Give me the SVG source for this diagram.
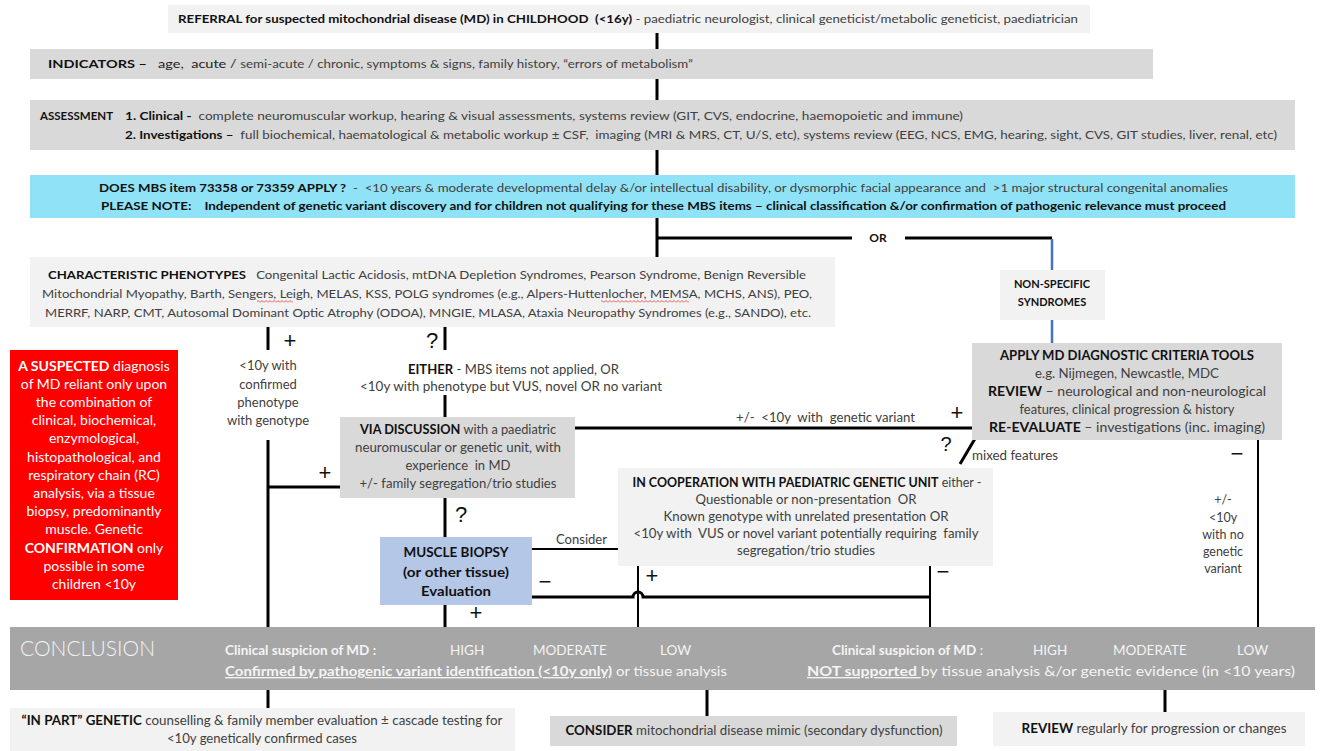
<svg xmlns="http://www.w3.org/2000/svg" width="1320" height="751" viewBox="0 0 1320 751">
<style>
text{font-family:Lato,"Liberation Sans",sans-serif;font-size:11px;fill:#404040;white-space:pre}
.m{font-size:13px}
.s{font-size:12.5px}
.b{font-weight:bold;fill:#111}
.c{text-anchor:middle}
.lt{fill:#f2f2f2;stroke:none}
.md{fill:#d9d9d9;stroke:none}
.ln{stroke:#000;stroke-width:3;fill:none}
.th{stroke:#000;stroke-width:2;fill:none}
.bl{stroke:#4472c4;stroke-width:2.5;fill:none}
.sym{font-family:"Liberation Sans",sans-serif;font-size:22px;fill:#111;text-anchor:middle}
.w{fill:#fff;font-size:14px}
.wb{fill:#fff;font-weight:bold}
.cl{fill:#f4f4f4;font-size:13.5px}
</style>
<defs>
<pattern id="wave" width="4" height="3" patternUnits="userSpaceOnUse"><path d="M0,2.5 L2,0.5 L4,2.5" stroke="#e03030" stroke-width="0.8" fill="none"/></pattern>
</defs>

<g id="connectors">
<path class="ln" d="M657,32 V49 M657,79 V100 M657,150 V175 M657,218 V257"/>
<path class="ln" d="M657,238 H852 M905,238 H1052"/>
<path class="bl" d="M1052,239 V270 M1052,320 V343"/>
<path class="ln" d="M268,327 V350 M268,440 V627 M268,487 H340"/>
<path class="ln" d="M445,327 V350 M445,395 V417 M445,498 V537 M445,605 V627"/>
<path class="ln" d="M575,428 H972"/>
<path class="ln" d="M976,437 L960,464"/>
<path class="th" d="M532,549 H618"/>
<path class="ln" d="M532,597 H633 A5,5 0 0 1 643,597 H930"/>
<path class="th" d="M638,566 V627 M930,566 V627"/>
<path class="th" d="M1258,440 V627"/>
<path class="ln" d="M268,690 V708 M707,690 V716 M1165,690 V712"/>
<text class="b c" x="878" y="242" style="font-size:12px">OR</text>
<text class="sym" x="290" y="348">+</text>
<text class="sym" x="432" y="348">?</text>
<text class="sym" x="325" y="480">+</text>
<text class="sym" x="461" y="522">?</text>
<text class="sym" x="957" y="420">+</text>
<text class="sym" x="946" y="451" style="font-size:20px">?</text>
<text class="sym" x="1237" y="461">−</text>
<text class="sym" x="943" y="579">−</text>
<text class="sym" x="652" y="583">+</text>
<text class="sym" x="545" y="589">−</text>
<text class="sym" x="476" y="620">+</text>
<text class="m c" x="268" y="370">&lt;10y with</text>
<text class="m c" x="268" y="389">confirmed</text>
<text class="m c" x="268" y="407">phenotype</text>
<text class="m c" x="268" y="425">with genotype</text>
<text class="m" x="408" y="374" textLength="211" lengthAdjust="spacingAndGlyphs"><tspan class="b">EITHER</tspan> - MBS items not applied, OR</text>
<text class="m" x="360" y="391" textLength="302" lengthAdjust="spacingAndGlyphs">&lt;10y with phenotype but VUS, novel OR no variant</text>
<text class="m" x="736" y="422" textLength="179" lengthAdjust="spacingAndGlyphs">+/-  &lt;10y  with  genetic variant</text>
<text class="s" x="972" y="460" textLength="86" lengthAdjust="spacingAndGlyphs">mixed features</text>
<text class="s" x="556" y="544" textLength="51" lengthAdjust="spacingAndGlyphs">Consider</text>
<text class="s c" x="1223" y="504">+/-</text>
<text class="s c" x="1223" y="522">&lt;10y</text>
<text class="s c" x="1223" y="539">with no</text>
<text class="s c" x="1223" y="556">genetic</text>
<text class="s c" x="1223" y="573">variant</text>
</g>

<g id="referral">
<rect class="lt" x="168" y="5" width="922" height="28"/>
<text x="178" y="23" textLength="900" lengthAdjust="spacingAndGlyphs" style="font-size:12px"><tspan class="b">REFERRAL for suspected mitochondrial disease (MD) in CHILDHOOD  (&lt;16y)</tspan> - paediatric neurologist, clinical geneticist/metabolic geneticist, paediatrician</text>
</g>

<g id="indicators">
<rect class="md" x="30" y="49" width="1123" height="30"/>
<text x="48" y="68" textLength="645" lengthAdjust="spacingAndGlyphs" style="font-size:12px"><tspan class="b">INDICATORS –</tspan><tspan fill="#222">   age,  acute / </tspan><tspan style="font-size:11px">semi-acute / chronic, symptoms &amp; signs, family history, “errors of metabolism”</tspan></text>
</g>

<g id="assessment">
<rect class="md" x="30" y="100" width="1265" height="50"/>
<text class="b" x="40" y="120" style="font-size:11.5px">ASSESSMENT</text>
<text x="125" y="120" textLength="838" lengthAdjust="spacingAndGlyphs"><tspan class="b">1. Clinical -</tspan>  complete neuromuscular workup, hearing &amp; visual assessments, systems review (GIT, CVS, endocrine, haemopoietic and immune)</text>
<text x="125" y="139" textLength="1152" lengthAdjust="spacingAndGlyphs"><tspan class="b">2. Investigations –</tspan>  full biochemical, haematological &amp; metabolic workup ± CSF,  imaging (MRI &amp; MRS, CT, U/S, etc), systems review (EEG, NCS, EMG, hearing, sight, CVS, GIT studies, liver, renal, etc)</text>
</g>

<g id="mbs">
<rect x="30" y="175" width="1265" height="43" fill="#90e3f6"/>
<text x="99" y="192" textLength="1129" lengthAdjust="spacingAndGlyphs"><tspan class="b">DOES MBS item 73358 or 73359 APPLY ?</tspan>  -  &lt;10 years &amp; moderate developmental delay &amp;/or intellectual disability, or dysmorphic facial appearance and  &gt;1 major structural congenital anomalies</text>
<text class="b" x="101" y="210" textLength="1125" lengthAdjust="spacingAndGlyphs">PLEASE NOTE:    Independent of genetic variant discovery and for children not qualifying for these MBS items – clinical classification &amp;/or confirmation of pathogenic relevance must proceed</text>
</g>

<g id="phenotypes">
<rect class="lt" x="30" y="257" width="805" height="70"/>
<text x="48" y="279" textLength="758" lengthAdjust="spacingAndGlyphs"><tspan class="b">CHARACTERISTIC PHENOTYPES</tspan>   Congenital Lactic Acidosis, mtDNA Depletion Syndromes, Pearson Syndrome, Benign Reversible</text>
<text x="42" y="298" textLength="770" lengthAdjust="spacingAndGlyphs">Mitochondrial Myopathy, Barth, Sengers, Leigh, MELAS, KSS, POLG syndromes (e.g., Alpers-Huttenlocher, MEMSA, MCHS, ANS), PEO,</text>
<text x="45" y="317" textLength="766" lengthAdjust="spacingAndGlyphs">MERRF, NARP, CMT, Autosomal Dominant Optic Atrophy (ODOA), MNGIE, MLASA, Ataxia Neuropathy Syndromes (e.g., SANDO), etc.</text>
<rect x="257" y="300" width="36" height="3" fill="url(#wave)"/>
<rect x="601" y="300" width="88" height="3" fill="url(#wave)"/>
</g>

<g id="nonspecific">
<rect class="lt" x="1000" y="270" width="105" height="50"/>
<text class="b c" x="1052" y="288">NON-SPECIFIC</text>
<text class="b c" x="1052" y="306">SYNDROMES</text>
</g>

<g id="apply">
<rect class="md" x="972" y="343" width="310" height="97"/>
<text class="m c" x="1127" y="360" textLength="254" lengthAdjust="spacingAndGlyphs"><tspan class="b">APPLY MD DIAGNOSTIC CRITERIA TOOLS</tspan></text>
<text class="m c" x="1127" y="378" textLength="184" lengthAdjust="spacingAndGlyphs">e.g. Nijmegen, Newcastle, MDC</text>
<text class="m c" x="1127" y="396" textLength="278" lengthAdjust="spacingAndGlyphs"><tspan class="b">REVIEW</tspan> – neurological and non-neurological</text>
<text class="m c" x="1127" y="414" textLength="215" lengthAdjust="spacingAndGlyphs">features, clinical progression &amp; history</text>
<text class="m c" x="1127" y="432" textLength="276" lengthAdjust="spacingAndGlyphs"><tspan class="b">RE-EVALUATE</tspan> – investigations (inc. imaging)</text>
</g>

<g id="suspected">
<rect x="10" y="350" width="168" height="250" fill="#ff0000"/>
<text class="w c" x="94" y="371"><tspan class="wb">A SUSPECTED</tspan> diagnosis</text>
<text class="w c" x="94" y="389">of MD reliant only upon</text>
<text class="w c" x="94" y="407">the combination of</text>
<text class="w c" x="94" y="425">clinical, biochemical,</text>
<text class="w c" x="94" y="443">enzymological,</text>
<text class="w c" x="94" y="462">histopathological, and</text>
<text class="w c" x="94" y="480">respiratory chain (RC)</text>
<text class="w c" x="94" y="498">analysis, via a tissue</text>
<text class="w c" x="94" y="516">biopsy, predominantly</text>
<text class="w c" x="94" y="534">muscle. Genetic</text>
<text class="w c" x="94" y="553"><tspan class="wb">CONFIRMATION</tspan> only</text>
<text class="w c" x="94" y="571">possible in some</text>
<text class="w c" x="94" y="589">children &lt;10y</text>
</g>

<g id="discussion">
<rect class="md" x="340" y="417" width="235" height="81"/>
<text class="m c" x="458" y="434" textLength="196" lengthAdjust="spacingAndGlyphs"><tspan class="b">VIA DISCUSSION</tspan> with a paediatric</text>
<text class="m c" x="458" y="452" textLength="206" lengthAdjust="spacingAndGlyphs">neuromuscular or genetic unit, with</text>
<text class="m c" x="458" y="470" textLength="105" lengthAdjust="spacingAndGlyphs">experience  in MD</text>
<text class="m c" x="458" y="488" textLength="197" lengthAdjust="spacingAndGlyphs">+/- family segregation/trio studies</text>
</g>

<g id="cooperation">
<rect class="lt" x="618" y="468" width="375" height="98"/>
<text class="m c" x="807" y="487" textLength="349" lengthAdjust="spacingAndGlyphs"><tspan class="b">IN COOPERATION WITH PAEDIATRIC GENETIC UNIT</tspan> either -</text>
<text class="m c" x="806" y="504" textLength="221" lengthAdjust="spacingAndGlyphs">Questionable or non-presentation  OR</text>
<text class="m c" x="806" y="521" textLength="285" lengthAdjust="spacingAndGlyphs">Known genotype with unrelated presentation OR</text>
<text class="m c" x="806" y="538" textLength="345" lengthAdjust="spacingAndGlyphs">&lt;10y with  VUS or novel variant potentially requiring  family</text>
<text class="m c" x="806" y="555" textLength="138" lengthAdjust="spacingAndGlyphs">segregation/trio studies</text>
</g>

<g id="biopsy">
<rect x="380" y="537" width="152" height="68" fill="#b4c7e7"/>
<text class="b c" x="456" y="557" style="font-size:13px" textLength="105" lengthAdjust="spacingAndGlyphs">MUSCLE BIOPSY</text>
<text class="b c" x="456" y="577" style="font-size:13px" textLength="106" lengthAdjust="spacingAndGlyphs">(or other tissue)</text>
<text class="b c" x="456" y="596" style="font-size:13px" textLength="70" lengthAdjust="spacingAndGlyphs">Evaluation</text>
</g>

<g id="conclusion">
<rect x="10" y="627" width="1305" height="63" fill="#a6a6a6"/>
<text x="20" y="656" style="font-size:21px;font-weight:300;fill:#f2f2f2">CONCLUSION</text>
<text class="cl" x="225" y="655"><tspan font-weight="bold">Clinical suspicion of MD :</tspan></text>
<text class="cl" x="450" y="655">HIGH</text>
<text class="cl" x="533" y="655">MODERATE</text>
<text class="cl" x="660" y="655">LOW</text>
<text class="cl" x="225" y="676" textLength="502" lengthAdjust="spacingAndGlyphs"><tspan font-weight="bold" text-decoration="underline">Confirmed by pathogenic variant identification (&lt;10y only)</tspan> or tissue analysis</text>
<text class="cl" x="832" y="655"><tspan font-weight="bold">Clinical suspicion of MD</tspan> :</text>
<text class="cl" x="1033" y="655">HIGH</text>
<text class="cl" x="1113" y="655">MODERATE</text>
<text class="cl" x="1237" y="655">LOW</text>
<text class="cl" x="807" y="676" textLength="488" lengthAdjust="spacingAndGlyphs"><tspan font-weight="bold" text-decoration="underline">NOT supported </tspan>by tissue analysis &amp;/or genetic evidence (in &lt;10 years)</text>
</g>

<g id="inpart">
<rect class="lt" x="10" y="708" width="505" height="43"/>
<text class="m c" x="262" y="725" textLength="481" lengthAdjust="spacingAndGlyphs"><tspan class="b">“IN PART” GENETIC</tspan> counselling &amp; family member evaluation ± cascade testing for</text>
<text class="m c" x="262" y="743" textLength="190" lengthAdjust="spacingAndGlyphs">&lt;10y genetically confirmed cases</text>
</g>

<g id="consider">
<rect class="md" x="550" y="716" width="407" height="30"/>
<text class="m c" x="754" y="735" textLength="377" lengthAdjust="spacingAndGlyphs"><tspan class="b">CONSIDER</tspan> mitochondrial disease mimic (secondary dysfunction)</text>
</g>

<g id="review">
<rect class="lt" x="993" y="712" width="312" height="34"/>
<text class="m c" x="1154" y="733" textLength="265" lengthAdjust="spacingAndGlyphs"><tspan class="b">REVIEW</tspan> regularly for progression or changes</text>
</g>
</svg>
